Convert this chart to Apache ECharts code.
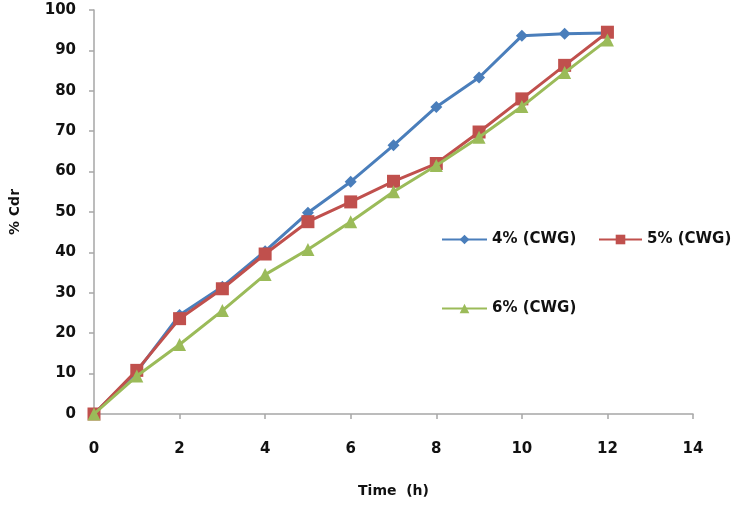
<!DOCTYPE html>
<html>
<head>
<meta charset="utf-8">
<script src="https://cdn.jsdelivr.net/npm/echarts@6/dist/echarts.min.js"></script>
<style>
html,body{margin:0;padding:0;background:#fff;}
#chart{width:737px;height:506px;}
</style>
</head>
<body>
<div id="chart"></div>
<script>
var timeH = [0, 1, 2, 3, 4, 5, 6, 7, 8, 9, 10, 11, 12];
var cwg4 = [0, 10.5, 24.5, 31.5, 40.3, 49.8, 57.5, 66.5, 76.0, 83.3, 93.6, 94.1, 94.3];
var cwg5 = [0, 10.8, 23.6, 31.0, 39.6, 47.6, 52.5, 57.6, 62.0, 69.8, 78.0, 86.3, 94.5];
var cwg6 = [0, 9.4, 17.2, 25.6, 34.5, 40.7, 47.6, 55.0, 61.5, 68.5, 76.1, 84.5, 92.6];
var seriesNames = ['4% (CWG)', '5% (CWG)', '6% (CWG)'];

function pairs(xs, ys) { return xs.map(function (x, i) { return [x, ys[i]]; }); }

var FONT = 'DejaVu Sans';
var chart = echarts.init(document.getElementById('chart'), null, {renderer: 'canvas'});
var axisColor = '#a6a6a6';
var legendText = {fontFamily: FONT, fontWeight: 'bold', fontSize: 15, color: '#111'};
chart.setOption({
  animation: false,
  backgroundColor: '#ffffff',
  grid: {left: 92, right: 44, top: 10, bottom: 92},
  legend: [
    {data: [seriesNames[0]], left: 441, top: 232, padding: 0, itemWidth: 45, itemHeight: 12, textStyle: legendText},
    {data: [seriesNames[1]], left: 598, top: 232, padding: 0, itemWidth: 43, itemHeight: 12, textStyle: legendText},
    {data: [seriesNames[2]], left: 441, top: 301, padding: 0, itemWidth: 45, itemHeight: 12, textStyle: legendText}
  ],
  xAxis: {
    type: 'value', min: 0, max: 14, interval: 2,
    name: 'Time  (h)', nameLocation: 'middle', nameGap: 70,
    nameTextStyle: {fontFamily: FONT, fontWeight: 'bold', fontSize: 14, color: '#111'},
    axisLine: {show: true, lineStyle: {color: axisColor, width: 1.5}},
    axisTick: {show: true, length: 5, lineStyle: {color: axisColor, width: 1.5}},
    axisLabel: {margin: 28, fontFamily: FONT, fontWeight: 'bold', fontSize: 15, color: '#111'},
    splitLine: {show: false}
  },
  yAxis: {
    type: 'value', min: 0, max: 100, interval: 10,
    name: '% Cdr', nameLocation: 'middle', nameGap: 72, nameRotate: 90,
    nameTextStyle: {fontFamily: FONT, fontWeight: 'bold', fontSize: 14, color: '#111'},
    axisLine: {show: true, lineStyle: {color: axisColor, width: 1.5}},
    axisTick: {show: true, length: 5, lineStyle: {color: axisColor, width: 1.5}},
    axisLabel: {margin: 18, fontFamily: FONT, fontWeight: 'bold', fontSize: 15, color: '#111'},
    splitLine: {show: false}
  },
  series: [
    {name: seriesNames[0], type: 'line', data: pairs(timeH, cwg4), symbol: 'diamond', symbolSize: 12,
     itemStyle: {color: '#4a7ebb'}, lineStyle: {width: 3, color: '#4a7ebb'}, z: 2},
    {name: seriesNames[1], type: 'line', data: pairs(timeH, cwg5), symbol: 'rect', symbolSize: 13,
     itemStyle: {color: '#c0504d'}, lineStyle: {width: 3, color: '#c0504d'}, z: 3},
    {name: seriesNames[2], type: 'line', data: pairs(timeH, cwg6), symbol: 'triangle', symbolSize: 13,
     itemStyle: {color: '#9bbb59'}, lineStyle: {width: 3, color: '#9bbb59'}, z: 4}
  ]
});
</script>
</body>
</html>
